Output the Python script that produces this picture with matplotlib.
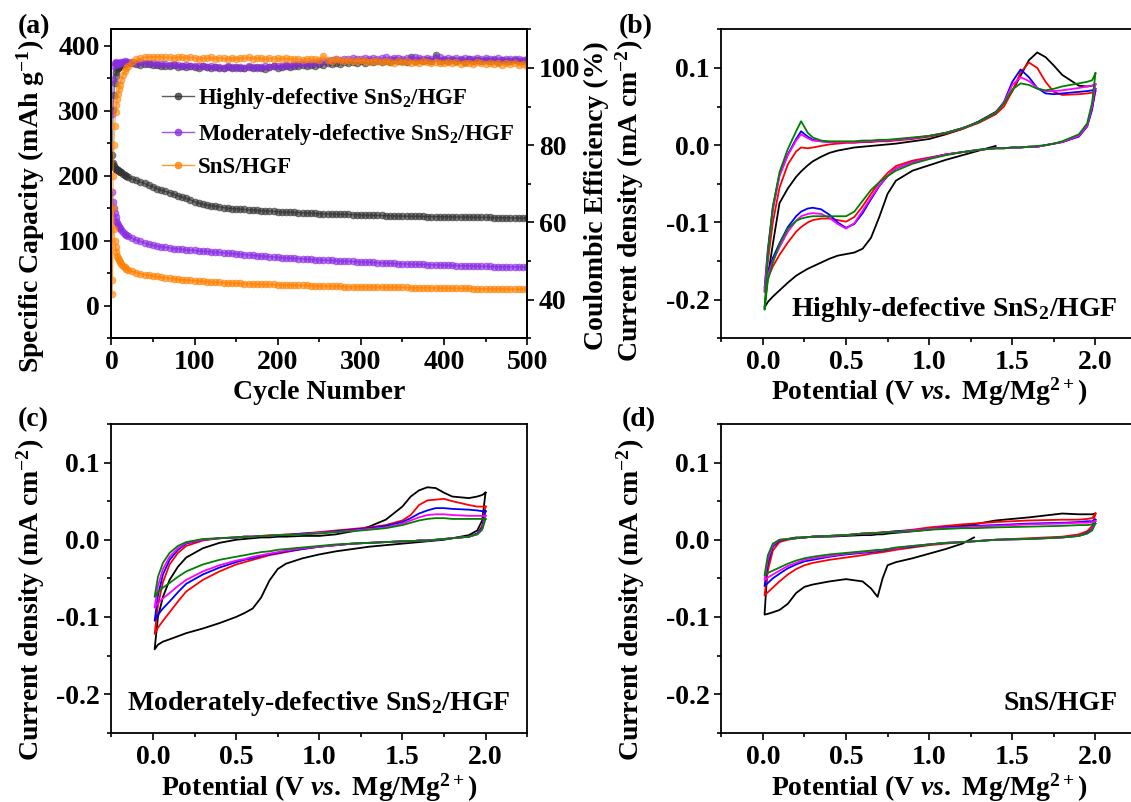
import numpy as np
import matplotlib
matplotlib.use("Agg")
import matplotlib.pyplot as plt
from matplotlib.ticker import MultipleLocator

plt.rcParams['font.family'] = ['Liberation Serif', 'DejaVu Serif']
plt.rcParams['font.weight'] = 'bold'
plt.rcParams['axes.labelweight'] = 'bold'
plt.rcParams['axes.unicode_minus'] = False
plt.rcParams['mathtext.fontset'] = 'custom'
plt.rcParams['mathtext.rm'] = 'Liberation Serif:bold'
plt.rcParams['mathtext.bf'] = 'Liberation Serif:bold'
plt.rcParams['mathtext.it'] = 'Liberation Serif:italic:bold'

# ---------------- (a) cycling data ----------------
cycles = [1, 2, 3, 4, 5, 6, 7, 8, 9, 10, 12, 14, 16, 18, 20] + list(range(25, 501, 5))

cap_high = [232, 220, 215, 212, 211, 210, 209, 208, 207, 206, 205, 203, 201, 200, 198,
            195, 193, 190, 188, 185, 183, 180, 178, 176, 174, 172, 169, 167, 165, 163,
            160, 158, 156, 155, 154, 153, 152, 151, 150, 149.5, 149,
            148.5, 148, 147.6, 147.2, 146.8, 146.4, 146, 145.6, 145.2, 144.8,
            144.5, 144.2, 143.9, 143.6, 143.3, 143.0, 142.7, 142.4, 142.1, 141.8,
            141.6, 141.4, 141.2, 141.0, 140.8, 140.6, 140.4, 140.2, 140.0, 139.8,
            139.6, 139.4, 139.2, 139.0, 138.8, 138.6, 138.4, 138.2, 138.0, 137.8,
            137.7, 137.6, 137.5, 137.4, 137.3, 137.2, 137.1, 137.0, 136.9, 136.8,
            136.7, 136.6, 136.5, 136.4, 136.3, 136.2, 136.1, 136.0, 135.9, 135.8,
            135.7, 135.6, 135.5, 135.4, 135.3, 135.2, 135.1, 135.0, 134.9, 134.8]
cap_mod = [175, 160, 150, 142, 136, 131, 127, 124, 121, 119, 116, 113, 111, 109, 107,
           104, 101, 99, 96.5, 94.5, 93, 92, 91, 90, 89, 88, 87.5, 87, 86, 85.5,
           85, 84.5, 84, 83.5, 83, 82.5, 82, 81.5, 81, 80.5, 80,
           79.4, 78.8, 78.2, 77.6, 77.1, 76.6, 76.1, 75.6, 75.1, 74.5,
           74.1, 73.7, 73.3, 72.9, 72.5, 72.1, 71.7, 71.3, 70.9, 70.5,
           70.2, 69.9, 69.6, 69.3, 69.0, 68.7, 68.4, 68.1, 67.8, 67.5,
           67.2, 66.9, 66.6, 66.3, 66.0, 65.7, 65.4, 65.1, 64.8, 64.5,
           64.3, 64.1, 63.9, 63.7, 63.5, 63.3, 63.1, 62.9, 62.7, 62.5,
           62.3, 62.1, 61.9, 61.7, 61.5, 61.3, 61.1, 60.9, 60.7, 60.5,
           60.4, 60.3, 60.2, 60.1, 60.0, 59.9, 59.8, 59.7, 59.6, 59.5]
cap_sns = [18, 150, 118, 100, 90, 82, 77, 73, 70, 68, 64, 61, 59, 57, 55.5,
           53, 51, 49.5, 48, 47, 46, 45, 44, 43, 42.2, 41.5, 40.8, 40.2, 39.6, 39,
           38.5, 38, 37.6, 37.2, 36.8, 36.4, 36, 35.7, 35.4, 35.1, 34.8,
           34.5, 34.2, 34, 33.8, 33.6, 33.4, 33.2, 33, 32.8, 32.6,
           32.4, 32.2, 32, 31.8, 31.6, 31.4, 31.2, 31, 30.8, 30.6,
           30.4, 30.2, 30, 29.8, 29.7, 29.6, 29.5, 29.4, 29.3, 29.2,
           29.1, 29, 28.9, 28.8, 28.7, 28.6, 28.5, 28.4, 28.3, 28.2,
           28.1, 28, 27.9, 27.8, 27.7, 27.6, 27.5, 27.4, 27.3, 27.2,
           27.1, 27, 26.9, 26.8, 26.7, 26.6, 26.5, 26.4, 26.3, 26.2,
           26.1, 26, 25.9, 25.8, 25.7, 25.6, 25.5, 25.4, 25.3, 25.2]

ce_high = [75, 89, 93, 96, 98, 99, 99.6, 100, 100.3, 100.5, 100.8, 101, 101.1, 101.2, 101.3,
           101.2, 101.0, 100.8, 101.1, 100.9, 100.7, 100.8, 100.5, 100.6, 100.4, 100.7, 100.3, 100.5,
           100.2, 100.4, 100.3, 100.1, 100.4, 100.2, 100.0, 100.3, 100.1, 99.9, 100.2, 100.0, 100.3,
           100.1, 99.9, 100.2, 100.0, 100.3, 100.1, 99.8, 100.2, 100.4, 100.1,
           100.3, 100.5, 100.2, 100.6, 100.4, 100.7, 100.5, 100.8, 100.6, 101.0,
           100.8, 101.2, 101.0, 101.4, 101.1, 101.5, 101.3, 101.6, 101.2, 101.7,
           101.4, 101.8, 101.5, 101.9, 101.6, 101.8, 101.5, 102.0, 101.7, 101.9,
           101.6, 102.9, 101.8, 102.0, 101.7, 102.1, 101.8, 103.4, 101.9, 102.0,
           101.7, 102.1, 101.8, 102.0, 101.6, 102.2, 101.9, 102.0, 101.7, 102.1,
           101.8, 102.0, 101.6, 102.1, 101.9, 101.7, 102.0, 101.8, 101.9, 101.7]
ce_mod = [88, 97, 100.5, 101.3, 101.5, 101.3, 101.1, 101.0, 101.2, 101.4, 101.6, 101.5, 101.7, 101.6, 101.5,
          101.6, 101.4, 101.5, 101.3, 101.4, 101.2, 101.0, 101.1, 100.9, 100.8, 100.9, 100.7, 100.6,
          100.8, 100.5, 100.6, 100.4, 100.5, 100.3, 100.4, 100.2, 100.3, 100.1, 100.4, 100.2, 100.0,
          100.3, 100.1, 100.4, 100.2, 100.0, 100.3, 100.5, 100.2, 100.4, 100.6,
          100.5, 100.8, 100.6, 101.0, 100.9, 101.2, 101.1, 101.4, 101.3, 101.6,
          101.7, 101.9, 102.0, 102.2, 102.1, 102.3, 102.2, 102.5, 102.3, 102.4,
          102.5, 102.3, 102.6, 102.4, 102.5, 102.7, 102.4, 102.6, 102.5, 102.3,
          102.6, 102.4, 102.7, 102.5, 102.3, 102.6, 102.4, 102.5, 102.7, 102.4,
          102.5, 102.3, 102.6, 102.4, 102.5, 102.2, 102.4, 102.6, 102.3, 102.5,
          102.4, 102.2, 102.5, 102.1, 102.3, 102.4, 102.2, 102.3, 102.1, 102.2]
ce_sns = [45, 72, 80, 85, 88.5, 90.5, 92, 93.3, 94.5, 95.5, 97, 98.2, 99.1, 99.9, 100.6,
          101.6, 102.2, 102.5, 102.7, 102.8, 102.9, 102.8, 102.9, 102.7, 102.8, 102.6, 102.8, 102.7,
          102.5, 102.7, 102.6, 102.4, 102.6, 102.5, 102.7, 102.4, 102.6, 102.5, 102.3, 102.6, 102.4,
          102.6, 102.5, 102.7, 102.4, 102.6, 102.5, 102.3, 102.6, 102.4, 102.5,
          102.3, 102.5, 102.2, 102.4, 102.3, 102.1, 102.4, 102.2, 102.3, 102.0,
          103.2, 102.1, 101.9, 102.2, 102.0, 101.8, 102.1, 101.9, 101.7, 102.0,
          101.8, 101.6, 101.9, 101.7, 101.5, 101.8, 101.6, 101.4, 101.7, 101.5,
          101.8, 101.4, 101.6, 101.3, 101.7, 101.5, 101.2, 101.6, 101.4, 101.3,
          101.5, 101.2, 101.6, 101.1, 101.4, 101.3, 101.0, 101.5, 101.2, 100.9,
          101.3, 101.0, 101.4, 100.8, 101.2, 100.9, 101.3, 100.7, 101.1, 100.6]

names = [r'Highly-defective SnS$_2$/HGF', r'Moderately-defective SnS$_2$/HGF', 'SnS/HGF']
cols_a = ['#333333', '#8A2BE2', '#FF8000']

# ---------------- CV data (current in mA cm-2) ----------------
cv_colors = ['black', 'red', 'blue', 'magenta', 'green']

# (b) highly-defective SnS2/HGF
vb = [0.01, 0.03, 0.06, 0.10, 0.15, 0.20, 0.23, 0.27, 0.30, 0.35, 0.40, 0.45, 0.50, 0.55, 0.60,
      0.65, 0.70, 0.75, 0.80, 0.90, 1.00, 1.10, 1.20, 1.30, 1.40, 1.45, 1.50, 1.55, 1.60, 1.65,
      1.70, 1.75, 1.80, 1.90, 1.95, 1.98, 2.00]
nan = np.nan
b_cat = [
    [-0.210, -0.203, -0.196, -0.188, -0.178, -0.169, -0.165, -0.160, -0.157, -0.152, -0.147, -0.143,
     -0.141, -0.139, -0.134, -0.120, -0.093, -0.063, -0.046, -0.033, -0.026, -0.019, -0.013, -0.007,
     -0.001, nan, nan, nan, nan, nan, nan, nan, nan, nan, nan, nan, nan],
    [-0.190, -0.172, -0.157, -0.142, -0.126, -0.112, -0.106, -0.100, -0.097, -0.095, -0.095, -0.097,
     -0.099, -0.093, -0.079, -0.063, -0.048, -0.036, -0.027, -0.020, -0.016, -0.012, -0.009, -0.006,
     -0.004, -0.004, -0.003, -0.003, -0.002, -0.002, 0.000, 0.002, 0.004, 0.012, 0.025, 0.048, 0.070],
    [-0.185, -0.165, -0.146, -0.127, -0.106, -0.092, -0.086, -0.082, -0.081, -0.083, -0.090, -0.100,
     -0.107, -0.102, -0.088, -0.070, -0.053, -0.040, -0.030, -0.022, -0.017, -0.012, -0.009, -0.006,
     -0.004, -0.004, -0.003, -0.003, -0.002, -0.002, 0.000, 0.002, 0.004, 0.011, 0.024, 0.046, 0.073],
    [-0.188, -0.168, -0.150, -0.132, -0.112, -0.098, -0.092, -0.089, -0.088, -0.089, -0.094, -0.102,
     -0.108, -0.101, -0.085, -0.068, -0.052, -0.040, -0.030, -0.022, -0.017, -0.012, -0.009, -0.006,
     -0.004, -0.004, -0.003, -0.003, -0.002, -0.002, 0.000, 0.002, 0.004, 0.012, 0.025, 0.050, 0.079],
    [-0.213, -0.175, -0.152, -0.128, -0.108, -0.098, -0.095, -0.093, -0.092, -0.092, -0.092, -0.092,
     -0.092, -0.086, -0.072, -0.058, -0.048, -0.040, -0.033, -0.024, -0.018, -0.013, -0.009, -0.006,
     -0.004, -0.004, -0.003, -0.003, -0.002, -0.001, 0.000, 0.002, 0.005, 0.014, 0.028, 0.055, 0.093],
]
b_an = [
    [-0.210, -0.170, -0.128, -0.075, -0.056, -0.041, -0.034, -0.026, -0.021, -0.015, -0.010, -0.007,
     -0.005, -0.003, -0.002, -0.001, 0.000, 0.001, 0.002, 0.005, 0.008, 0.014, 0.021, 0.031,
     0.043, 0.054, 0.070, 0.090, 0.110, 0.120, 0.114, 0.103, 0.091, 0.077, 0.076, 0.077, 0.079],
    [-0.190, -0.150, -0.100, -0.055, -0.025, -0.008, -0.003, -0.004, -0.003, -0.001, 0.001, 0.002,
     0.003, 0.003, 0.004, 0.004, 0.005, 0.005, 0.006, 0.008, 0.011, 0.015, 0.021, 0.029,
     0.040, 0.050, 0.070, 0.094, 0.107, 0.100, 0.082, 0.069, 0.065, 0.066, 0.067, 0.068, 0.070],
    [-0.185, -0.135, -0.080, -0.038, -0.012, 0.008, 0.018, 0.011, 0.007, 0.005, 0.004, 0.004,
     0.004, 0.004, 0.005, 0.005, 0.006, 0.006, 0.007, 0.009, 0.012, 0.016, 0.022, 0.030,
     0.042, 0.056, 0.082, 0.098, 0.088, 0.074, 0.067, 0.066, 0.067, 0.069, 0.070, 0.071, 0.073],
    [-0.188, -0.140, -0.085, -0.040, -0.013, 0.006, 0.014, 0.009, 0.006, 0.005, 0.004, 0.004,
     0.004, 0.004, 0.005, 0.005, 0.006, 0.006, 0.007, 0.009, 0.012, 0.016, 0.022, 0.030,
     0.042, 0.055, 0.078, 0.088, 0.083, 0.074, 0.070, 0.070, 0.071, 0.074, 0.076, 0.077, 0.079],
    [-0.213, -0.140, -0.080, -0.035, -0.005, 0.018, 0.031, 0.016, 0.010, 0.006, 0.005, 0.005,
     0.005, 0.005, 0.006, 0.006, 0.007, 0.007, 0.008, 0.010, 0.012, 0.016, 0.022, 0.030,
     0.042, 0.054, 0.072, 0.080, 0.078, 0.073, 0.071, 0.073, 0.076, 0.080, 0.082, 0.084, 0.093],
]

# (c) moderately-defective SnS2/HGF
vc = [0.01, 0.03, 0.06, 0.10, 0.15, 0.20, 0.30, 0.40, 0.50, 0.55, 0.60, 0.65, 0.70, 0.75, 0.80,
      0.90, 1.00, 1.10, 1.20, 1.30, 1.40, 1.50, 1.55, 1.60, 1.65, 1.70, 1.75, 1.80, 1.90, 1.95,
      1.98, 2.00]
c_cat = [
    [-0.142, -0.136, -0.132, -0.129, -0.125, -0.121, -0.115, -0.108, -0.100, -0.095, -0.089, -0.075,
     -0.053, -0.038, -0.031, -0.024, -0.019, -0.015, -0.012, -0.009, -0.007, -0.005, -0.004, -0.003,
     -0.002, -0.001, 0.000, 0.002, 0.006, 0.012, 0.025, 0.061],
    [-0.122, -0.114, -0.105, -0.094, -0.080, -0.067, -0.052, -0.041, -0.032, -0.029, -0.026, -0.023,
     -0.020, -0.018, -0.016, -0.012, -0.009, -0.007, -0.005, -0.004, -0.003, -0.002, -0.002, -0.001,
     -0.001, 0.000, 0.001, 0.002, 0.004, 0.008, 0.018, 0.043],
    [-0.105, -0.097, -0.089, -0.080, -0.068, -0.057, -0.045, -0.036, -0.029, -0.026, -0.024, -0.021,
     -0.019, -0.017, -0.015, -0.012, -0.009, -0.007, -0.005, -0.004, -0.003, -0.002, -0.002, -0.001,
     -0.001, 0.000, 0.001, 0.002, 0.004, 0.008, 0.016, 0.037],
    [-0.088, -0.082, -0.076, -0.069, -0.060, -0.052, -0.041, -0.033, -0.027, -0.025, -0.022, -0.020,
     -0.018, -0.016, -0.014, -0.011, -0.009, -0.007, -0.005, -0.004, -0.003, -0.002, -0.002, -0.001,
     -0.001, 0.000, 0.001, 0.002, 0.004, 0.007, 0.014, 0.031],
    [-0.074, -0.068, -0.062, -0.056, -0.048, -0.041, -0.032, -0.026, -0.022, -0.020, -0.018, -0.016,
     -0.015, -0.013, -0.012, -0.010, -0.008, -0.006, -0.005, -0.004, -0.003, -0.002, -0.002, -0.001,
     -0.001, 0.000, 0.001, 0.002, 0.004, 0.007, 0.013, 0.027],
]
c_an = [
    [-0.142, -0.100, -0.074, -0.052, -0.035, -0.023, -0.011, -0.004, 0.000, 0.001, 0.002, 0.003,
     0.003, 0.004, 0.004, 0.005, 0.005, 0.007, 0.011, 0.017, 0.026, 0.043, 0.056, 0.064,
     0.068, 0.067, 0.061, 0.056, 0.054, 0.056, 0.058, 0.061],
    [-0.122, -0.085, -0.055, -0.032, -0.017, -0.008, -0.001, 0.002, 0.003, 0.004, 0.004, 0.005,
     0.006, 0.006, 0.007, 0.008, 0.010, 0.012, 0.014, 0.016, 0.019, 0.025, 0.032, 0.045,
     0.051, 0.052, 0.053, 0.050, 0.045, 0.043, 0.043, 0.043],
    [-0.105, -0.072, -0.045, -0.026, -0.013, -0.005, 0.000, 0.002, 0.003, 0.004, 0.004, 0.005,
     0.005, 0.006, 0.006, 0.008, 0.009, 0.011, 0.013, 0.015, 0.018, 0.023, 0.028, 0.034,
     0.038, 0.041, 0.041, 0.040, 0.039, 0.038, 0.037, 0.037],
    [-0.088, -0.060, -0.038, -0.022, -0.011, -0.004, 0.000, 0.002, 0.003, 0.004, 0.004, 0.005,
     0.005, 0.006, 0.006, 0.007, 0.009, 0.010, 0.012, 0.014, 0.016, 0.021, 0.025, 0.029,
     0.032, 0.033, 0.033, 0.032, 0.031, 0.031, 0.031, 0.031],
    [-0.074, -0.048, -0.030, -0.017, -0.008, -0.003, 0.001, 0.002, 0.003, 0.004, 0.004, 0.005,
     0.005, 0.006, 0.006, 0.007, 0.008, 0.010, 0.011, 0.013, 0.015, 0.019, 0.022, 0.025,
     0.027, 0.028, 0.028, 0.027, 0.027, 0.027, 0.027, 0.027],
]

# (d) SnS/HGF
vd = [0.01, 0.03, 0.06, 0.10, 0.15, 0.20, 0.25, 0.30, 0.40, 0.50, 0.60, 0.65, 0.69, 0.72, 0.75,
      0.80, 0.90, 1.00, 1.10, 1.20, 1.27, 1.40, 1.60, 1.80, 1.90, 1.95, 1.98, 2.00]
d_cat = [
    [-0.097, -0.096, -0.094, -0.091, -0.083, -0.069, -0.061, -0.058, -0.054, -0.051, -0.054, -0.063,
     -0.074, -0.050, -0.033, -0.029, -0.024, -0.018, -0.012, -0.005, 0.003,
     nan, nan, nan, nan, nan, nan, nan],
    [-0.072, -0.068, -0.062, -0.054, -0.045, -0.038, -0.033, -0.030, -0.026, -0.023, -0.020, -0.018,
     -0.017, -0.016, -0.015, -0.013, -0.010, -0.007, -0.005, -0.003, -0.002, 0.000, 0.002, 0.004,
     0.007, 0.011, 0.018, 0.034],
    [-0.060, -0.056, -0.050, -0.044, -0.037, -0.032, -0.028, -0.026, -0.022, -0.019, -0.017, -0.016,
     -0.015, -0.014, -0.013, -0.011, -0.009, -0.006, -0.004, -0.003, -0.002, 0.000, 0.001, 0.003,
     0.005, 0.009, 0.014, 0.026],
    [-0.052, -0.049, -0.045, -0.040, -0.034, -0.030, -0.026, -0.024, -0.021, -0.018, -0.016, -0.015,
     -0.014, -0.013, -0.012, -0.011, -0.008, -0.006, -0.004, -0.003, -0.002, 0.000, 0.001, 0.003,
     0.005, 0.008, 0.013, 0.024],
    [-0.046, -0.043, -0.040, -0.036, -0.031, -0.027, -0.024, -0.022, -0.019, -0.017, -0.015, -0.014,
     -0.013, -0.013, -0.012, -0.010, -0.008, -0.006, -0.004, -0.003, -0.002, 0.000, 0.001, 0.003,
     0.005, 0.008, 0.012, 0.021],
]
d_an = [
    [-0.097, -0.030, -0.008, -0.002, 0.001, 0.003, 0.003, 0.004, 0.004, 0.005, 0.006, 0.006,
     0.007, 0.007, 0.008, 0.009, 0.011, 0.013, 0.016, 0.018, 0.020, 0.025, 0.029, 0.034,
     0.033, 0.033, 0.033, 0.034],
    [-0.072, -0.040, -0.014, -0.003, 0.000, 0.002, 0.003, 0.004, 0.005, 0.006, 0.008, 0.009,
     0.009, 0.010, 0.010, 0.011, 0.013, 0.016, 0.018, 0.020, 0.021, 0.023, 0.025, 0.026,
     0.026, 0.027, 0.028, 0.034],
    [-0.060, -0.030, -0.009, -0.001, 0.001, 0.002, 0.003, 0.004, 0.005, 0.006, 0.008, 0.008,
     0.009, 0.009, 0.010, 0.011, 0.012, 0.014, 0.016, 0.017, 0.018, 0.019, 0.021, 0.022,
     0.023, 0.024, 0.024, 0.026],
    [-0.052, -0.025, -0.007, 0.000, 0.001, 0.002, 0.003, 0.004, 0.005, 0.006, 0.008, 0.008,
     0.009, 0.009, 0.010, 0.010, 0.012, 0.014, 0.015, 0.016, 0.017, 0.018, 0.020, 0.021,
     0.022, 0.022, 0.023, 0.024],
    [-0.046, -0.020, -0.005, 0.000, 0.001, 0.002, 0.003, 0.004, 0.005, 0.006, 0.008, 0.008,
     0.009, 0.009, 0.010, 0.010, 0.011, 0.013, 0.014, 0.015, 0.015, 0.016, 0.017, 0.018,
     0.019, 0.019, 0.020, 0.021],
]

# ---------------- figure ----------------
W, H = 1131, 802
fig = plt.figure(figsize=(W / 100, H / 100), dpi=100)


def box(l, t, r, b):
    return [l / W, 1 - b / H, (r - l) / W, (b - t) / H]


def ftext(x, y, s, **kw):
    fig.text(x / W, 1 - y / H, s, **kw)


TICK = 20
LAB = 20


def style(ax):
    for sp in ax.spines.values():
        sp.set_linewidth(1.3)
    ax.tick_params(which='both', direction='out', width=1.2, labelsize=TICK, top=False)
    ax.tick_params(which='major', length=5)
    ax.tick_params(which='minor', length=3)


# (a)
axa = fig.add_axes(box(111.4, 29.3, 527.1, 338.3))
axb2 = axa.twinx()
for cap, col, nm in zip([cap_high, cap_mod, cap_sns], cols_a, names):
    axa.plot(cycles, cap, '-o', color=col, ms=5, lw=1.0, alpha=0.65, mec=col, mew=0.5, label=nm)
for ce, col in zip([ce_high, ce_mod, ce_sns], cols_a):
    axb2.plot(cycles, ce, '-o', color=col, ms=5, lw=1.0, alpha=0.6, mec=col, mew=0.5)
axa.set_xlim(0, 500)
axa.set_ylim(-50, 425)
axb2.set_ylim(30, 110)
axa.xaxis.set_major_locator(MultipleLocator(100))
axa.xaxis.set_minor_locator(MultipleLocator(50))
axa.yaxis.set_major_locator(MultipleLocator(100))
axa.yaxis.set_minor_locator(MultipleLocator(50))
axb2.yaxis.set_major_locator(MultipleLocator(20))
axb2.yaxis.set_minor_locator(MultipleLocator(10))
style(axa)
axa.tick_params(right=False)
style(axb2)
axb2.set_yticks([40, 60, 80, 100])
leg = axa.legend(loc='upper left', bbox_to_anchor=(0.10, 0.845), frameon=False, fontsize=16.5,
                 handlelength=1.4, handletextpad=0.15, labelspacing=0.45, borderaxespad=0)
for h in leg.legend_handles:
    h.set_alpha(0.8)

ftext(31, 206, r'Specific Capacity (mAh g$^{-1}$)', rotation=90, ha='center', va='center',
      fontsize=LAB)
ftext(596, 196, 'Coulombic Efficiency (%)', rotation=90, ha='center', va='center', fontsize=LAB)
ftext(319, 393, 'Cycle Number', ha='center', va='center', fontsize=LAB)

pot_label = r'Potential (V $\mathit{vs.}$ Mg/Mg$^{2+}$)'
cur_label = r'Current density (mA cm$^{-2}$)'


def cv_panel(rect, v, cats, ans, note, note_xy, note_ha, ylab_x, ylab_y, xlab_y):
    ax = fig.add_axes(rect)
    va = np.array(v)
    for col, ca, an in zip(cv_colors, cats, ans):
        x = np.concatenate([va[::-1], va])
        y = np.concatenate([np.array(ca)[::-1], np.array(an)])
        ax.plot(x, y, color=col, lw=1.3)
    ax.set_xlim(-0.25, 2.25)
    ax.set_ylim(-0.25, 0.15)
    ax.set_xticks([0.0, 0.5, 1.0, 1.5, 2.0])
    ax.xaxis.set_minor_locator(MultipleLocator(0.25))
    ax.set_yticks([-0.2, -0.1, 0.0, 0.1])
    ax.yaxis.set_minor_locator(MultipleLocator(0.05))
    ax.xaxis.set_major_formatter(plt.FormatStrFormatter('%.1f'))
    ax.yaxis.set_major_formatter(plt.FormatStrFormatter('%.1f'))
    style(ax)
    ax.tick_params(right=False)
    ftext(note_xy[0], note_xy[1], note, ha=note_ha, va='center', fontsize=20)
    ftext(ylab_x, ylab_y, cur_label, rotation=90, ha='center', va='center', fontsize=LAB)
    cx = (rect[0] + rect[2] / 2) * W
    ftext(cx, xlab_y, pot_label, ha='center', va='center', fontsize=LAB)
    return ax


cv_panel(box(721.3, 29.3, 1137, 338.3), vb, b_cat, b_an, r'Highly-defective SnS$_2$/HGF',
         (1118, 310), 'right', 630, 201, 392)
cv_panel(box(111.4, 424, 527.1, 732.7), vc, c_cat, c_an, r'Moderately-defective SnS$_2$/HGF',
         (319, 703), 'center', 31, 600, 788)
cv_panel(box(721.3, 424, 1137, 732.7), vd, d_cat, d_an, 'SnS/HGF',
         (1118, 703), 'right', 631, 600, 788)

ftext(34, 27, '(a)', ha='center', va='center', fontsize=20)
ftext(636, 27, '(b)', ha='center', va='center', fontsize=20)
ftext(33, 420, '(c)', ha='center', va='center', fontsize=20)
ftext(639, 420, '(d)', ha='center', va='center', fontsize=20)

fig.savefig('out.png', dpi=100)
